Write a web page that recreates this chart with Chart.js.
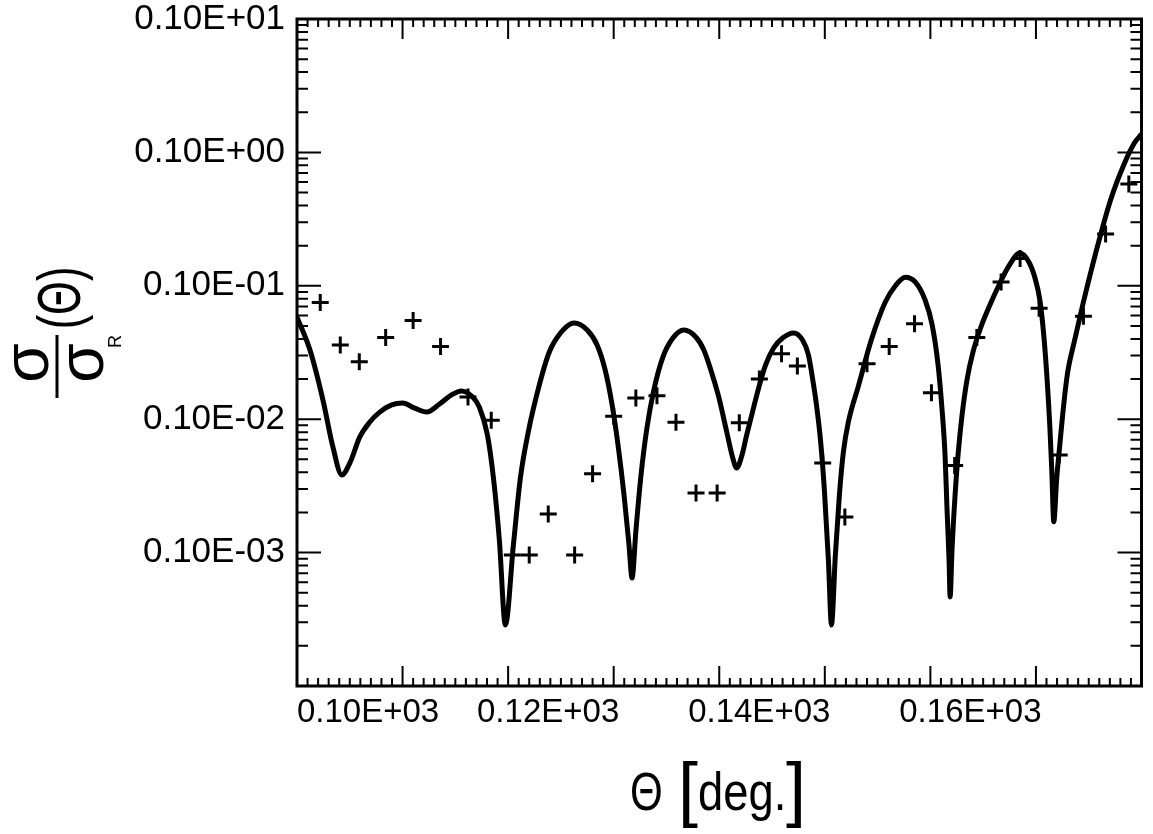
<!DOCTYPE html>
<html>
<head>
<meta charset="utf-8">
<script src="https://cdn.jsdelivr.net/npm/chart.js"></script>
<style>
  body { margin: 0; background: #fff; }
  canvas { display: block; }
</style>
</head>
<body>
<canvas id="chart" width="1153" height="834"></canvas>
<script>
// calculated cross section (solid line)
var calcTheta = [100.00, 101.23, 102.46, 103.40, 104.25, 105.01, 105.95, 106.90, 107.84, 108.97,
  110.01, 111.15, 112.28, 113.51, 114.64, 115.58, 116.62, 117.28, 118.04, 118.61,
  119.17, 119.74, 120.50, 121.16, 121.91, 122.95, 123.90, 125.03, 126.26, 127.49,
  128.43, 129.19, 129.85, 130.41, 130.98, 131.45, 131.74, 132.11, 132.59, 133.15,
  133.81, 134.66, 135.61, 136.65, 137.78, 138.54, 139.20, 139.95, 140.71, 141.28,
  141.65, 142.13, 142.60, 143.07, 143.73, 144.39, 145.15, 146.00, 147.04, 147.89,
  148.45, 148.83, 149.21, 149.59, 149.96, 150.34, 150.63, 151.00, 151.38, 151.76,
  152.23, 153.18, 154.40, 155.73, 156.67, 157.62, 158.56, 159.50, 160.17, 160.73,
  161.11, 161.39, 161.58, 161.77, 161.87, 162.05, 162.34, 162.62, 163.00, 163.47,
  164.04, 164.79, 165.64, 166.49, 167.44, 168.48, 169.33, 169.89, 170.37, 170.74,
  171.03, 171.31, 171.50, 171.69, 171.97, 172.26, 172.63, 173.01, 173.67, 174.43,
  175.66, 177.07, 178.40, 179.34, 180.00];
var calcSigma = [5.83e-3, 3.30e-3, 1.39e-3, 6.19e-4, 3.82e-4, 4.70e-4, 7.36e-4, 9.53e-4, 1.13e-3, 1.28e-3,
  1.32e-3, 1.21e-3, 1.13e-3, 1.30e-3, 1.52e-3, 1.63e-3, 1.47e-3, 1.23e-3, 7.62e-4, 3.62e-4,
  1.24e-4, 2.87e-5, 1.14e-4, 3.62e-4, 8.02e-4, 1.80e-3, 3.19e-3, 4.50e-3, 5.26e-3, 4.66e-3,
  3.60e-3, 2.34e-3, 1.28e-3, 6.41e-4, 2.70e-4, 1.14e-4, 6.45e-5, 1.48e-4, 3.82e-4, 8.59e-4,
  1.66e-3, 2.92e-3, 4.06e-3, 4.66e-3, 4.13e-3, 3.30e-3, 2.34e-3, 1.47e-3, 8.02e-4, 5.12e-4,
  4.31e-4, 5.30e-4, 7.62e-4, 1.07e-3, 1.71e-3, 2.55e-3, 3.42e-3, 4.06e-3, 4.43e-3, 3.92e-3,
  3.03e-3, 2.04e-3, 1.28e-3, 6.98e-4, 2.94e-4, 8.80e-5, 2.87e-5, 9.59e-5, 2.70e-4, 5.68e-4,
  9.53e-4, 1.77e-3, 3.92e-3, 7.56e-3, 9.97e-3, 1.16e-2, 1.07e-2, 7.83e-3, 5.08e-3, 2.55e-3,
  1.17e-3, 5.39e-4, 2.09e-4, 8.80e-5, 4.65e-5, 1.05e-4, 2.70e-4, 5.39e-4, 1.07e-3, 1.97e-3,
  3.19e-3, 4.91e-3, 7.18e-3, 1.01e-2, 1.41e-2, 1.76e-2, 1.51e-2, 1.16e-2, 7.83e-3, 4.28e-3,
  2.14e-3, 9.05e-4, 4.16e-4, 1.70e-4, 3.62e-4, 6.41e-4, 1.28e-3, 2.26e-3, 3.92e-3, 7.18e-3,
  1.76e-2, 4.40e-2, 8.33e-2, 0.118, 0.137];

// measured points (+)
var expTheta = [102.2, 104.1, 105.9, 108.4, 111.0, 113.6, 116.2, 118.4, 120.4, 122.0,
  123.8, 126.3, 128.0, 130.0, 132.1, 134.1, 135.9, 137.8, 139.8, 141.9,
  143.8, 145.9, 147.4, 149.8, 151.9, 154.0, 156.1, 158.5, 160.1, 162.3,
  164.4, 166.7, 168.5, 170.3, 172.2, 174.5, 176.6, 178.8];
var expSigma = [7.5e-3, 3.6e-3, 2.7e-3, 4.1e-3, 5.5e-3, 3.5e-3, 1.47e-3, 9.8e-4, 9.6e-5, 9.6e-5,
  1.95e-4, 9.6e-5, 3.9e-4, 1.05e-3, 1.44e-3, 1.5e-3, 9.5e-4, 2.8e-4, 2.8e-4, 9.4e-4,
  2.0e-3, 3.1e-3, 2.5e-3, 4.7e-4, 1.85e-4, 2.6e-3, 3.5e-3, 5.2e-3, 1.58e-3, 4.5e-4,
  4.1e-3, 1.07e-2, 1.6e-2, 6.8e-3, 5.4e-4, 5.9e-3, 2.45e-2, 5.8e-2];

var xTickValues = [100, 120, 140, 160];
var xTickLabels = ['0.10E+03', '0.12E+03', '0.14E+03', '0.16E+03'];
var yTickValues = [1, 0.1, 0.01, 0.001, 0.0001];
var yTickLabels = ['0.10E+01', '0.10E+00', '0.10E-01', '0.10E-02', '0.10E-03'];

var FONT = '"Liberation Sans", Arial, sans-serif';

function toPoints(xs, ys) {
  var pts = [];
  for (var i = 0; i < xs.length; i++) pts.push({x: xs[i], y: ys[i]});
  return pts;
}

// frame with inward ticks on all four sides
var framePlugin = {
  id: 'frame',
  afterDatasetsDraw: function(chart) {
    var ctx = chart.ctx, a = chart.chartArea;
    var x = chart.scales.x, y = chart.scales.y;
    ctx.save();
    ctx.strokeStyle = '#000';
    ctx.lineWidth = 3;
    ctx.strokeRect(a.left, a.top, a.right - a.left, a.bottom - a.top);
    ctx.lineWidth = 2;
    ctx.beginPath();
    for (var t = 101; t < 180; t++) {
      var px = x.getPixelForValue(t);
      var len = (t % 10 === 0) ? 20 : 8;
      ctx.moveTo(px, a.bottom); ctx.lineTo(px, a.bottom - len);
      ctx.moveTo(px, a.top); ctx.lineTo(px, a.top + len);
    }
    for (var e = -5; e < 0; e++) {
      for (var k = 1; k < 10; k++) {
        var py = y.getPixelForValue(k * Math.pow(10, e));
        var l = (k === 1) ? 24 : 11;
        ctx.moveTo(a.left, py); ctx.lineTo(a.left + l, py);
        ctx.moveTo(a.right, py); ctx.lineTo(a.right - l, py);
      }
    }
    ctx.stroke();
    ctx.restore();
  }
};

// x tick labels + axis titles
var textPlugin = {
  id: 'texts',
  afterDraw: function(chart) {
    var ctx = chart.ctx, a = chart.chartArea, x = chart.scales.x;
    ctx.save();
    ctx.fillStyle = '#000';
    ctx.textBaseline = 'alphabetic';

    ctx.font = '33px ' + FONT;
    ctx.textAlign = 'center';
    xTickValues.forEach(function(v, i) {
      var w = ctx.measureText(xTickLabels[i]).width;
      var cx = Math.max(x.getPixelForValue(v) + 40, a.left + w / 2);
      ctx.fillText(xTickLabels[i], cx, a.bottom + 36);
    });

    // x title: Θ [deg.]
    ctx.textAlign = 'left';
    ctx.save();
    ctx.translate(630, 810);
    ctx.scale(0.78, 1);
    ctx.font = '54px ' + FONT;
    ctx.fillText('Θ', 0, 0);
    ctx.restore();
    ctx.font = '72px ' + FONT;
    ctx.fillText('[', 678, 813);
    ctx.fillText(']', 786, 813);
    ctx.save();
    ctx.translate(698, 810);
    ctx.scale(0.84, 1);
    ctx.font = '54px ' + FONT;
    ctx.fillText('deg.', 0, 0);
    ctx.restore();

    // y title: σ/σR (Θ), rotated
    ctx.save();
    ctx.translate(57, 398);
    ctx.rotate(-Math.PI / 2);
    ctx.fillRect(0, -1.5, 63, 3);
    ctx.textAlign = 'center';
    ctx.font = '64px ' + FONT;
    ctx.fillText('σ', 35, -9);
    ctx.fillText('σ', 35, 46);
    ctx.textAlign = 'left';
    ctx.font = '18px ' + FONT;
    ctx.fillText('R', 50, 64);
    ctx.translate(100, 23);
    ctx.scale(0.7, 1);
    ctx.textAlign = 'center';
    ctx.font = '62px ' + FONT;
    ctx.fillText('(Θ)', 0, 0);
    ctx.restore();

    ctx.restore();
  }
};

new Chart(document.getElementById('chart'), {
  type: 'scatter',
  data: {
    datasets: [{
      data: toPoints(calcTheta, calcSigma),
      showLine: true,
      borderColor: '#000',
      borderWidth: 5,
      pointRadius: 0,
      cubicInterpolationMode: 'monotone'
    }, {
      data: toPoints(expTheta, expSigma),
      showLine: false,
      pointStyle: 'cross',
      pointRadius: 8.5,
      borderColor: '#000',
      borderWidth: 3
    }]
  },
  options: {
    responsive: false,
    animation: false,
    layout: { padding: { top: 19, right: 9, left: 0, bottom: 0 } },
    plugins: { legend: { display: false }, tooltip: { enabled: false } },
    scales: {
      x: {
        type: 'linear', min: 100, max: 180,
        grid: { display: false, drawTicks: false },
        border: { display: false },
        ticks: { display: false },
        afterFit: function(s) {
          s.height = 148;
          s.paddingLeft = 0; s.paddingRight = 0;
        }
      },
      y: {
        type: 'logarithmic', min: 1e-5, max: 1,
        grid: { display: false, drawTicks: false },
        border: { display: false },
        afterBuildTicks: function(s) {
          s.ticks = yTickValues.map(function(v) { return {value: v}; });
        },
        ticks: {
          callback: function(v) { return yTickLabels[yTickValues.indexOf(v)]; },
          font: { family: FONT, size: 35, lineHeight: 1 },
          color: '#000',
          padding: 12
        },
        afterFit: function(s) {
          s.width = 297;
          s.paddingTop = 0; s.paddingBottom = 0;
        }
      }
    }
  },
  plugins: [framePlugin, textPlugin]
});
</script>
</body>
</html>
